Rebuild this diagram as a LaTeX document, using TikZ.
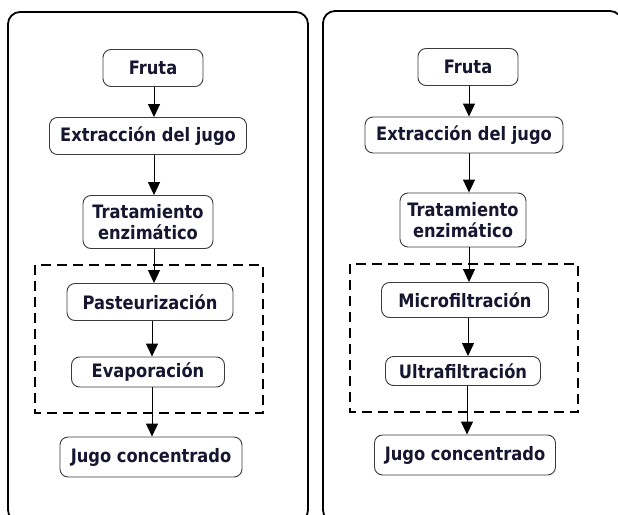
\documentclass[tikz,border=0pt]{standalone}
\usepackage{fontspec}
\newfontfamily\labfont{DejaVu Sans}[FakeStretch=0.88]
\usetikzlibrary{arrows.meta}
\definecolor{txt}{RGB}{22,22,48}
\definecolor{boxline}{RGB}{60,60,60}
\begin{document}
\begin{tikzpicture}[x=1pt,y=-1pt,
  panel/.style={draw=black,line width=1.8pt,rounded corners=12pt},
  group/.style={draw=black,line width=2pt,dash pattern=on 10pt off 6pt},
  stage/.style={draw=boxline,line width=0.9pt,rounded corners=8pt,fill=white,
    inner sep=0pt,align=center,text=txt,
    font=\labfont\bfseries\fontsize{18.5}{21.5}\selectfont},
  arr/.style={draw=black,line width=1pt,-{Triangle[length=13pt,width=12pt]}}]
\useasboundingbox (0,0) rectangle (618,514);
\fill[white] (0,0) rectangle (618,514);
% panels
\draw[panel] (8,12) rectangle (308,522);
\draw[panel] (323,11) rectangle (622,522);
% left flow
\coordinate (la) at (154,0);
\draw[group] (35,265) rectangle (263,413);
\node[stage,minimum width=100pt,minimum height=37pt] (lfruta) at (153,68) {Fruta};
\node[stage,minimum width=197pt,minimum height=37pt] (lextr) at (148,136) {Extracción del jugo};
\node[stage,minimum width=130pt,minimum height=53pt] (ltrat) at (148,222) {Tratamiento\\enzimático};
\node[stage,minimum width=166pt,minimum height=37pt] (lpast) at (150,302) {Pasteurización};
\node[stage,minimum width=153pt,minimum height=30pt] (levap) at (148,372) {Evaporación};
\node[stage,minimum width=182pt,minimum height=40pt] (ljugo) at (151,457) {Jugo concentrado};
\draw[arr] (lfruta.south -| la) -- (lextr.north -| la);
\draw[arr] (lextr.south -| la) -- (ltrat.north -| la);
\draw[arr] (ltrat.south -| la) -- (lpast.north -| la);
\draw[arr] ([xshift=-2pt]lpast.south -| la) -- ([xshift=-2pt]levap.north -| la);
\draw[arr] ([xshift=-2pt]levap.south -| la) -- ([xshift=-2pt]ljugo.north -| la);
% right flow
\coordinate (ra) at (469,0);
\draw[group] (350,264) rectangle (578,412);
\node[stage,minimum width=100pt,minimum height=37pt] (rfruta) at (468,67) {Fruta};
\node[stage,minimum width=198pt,minimum height=36pt] (rextr) at (464,135) {Extracción del jugo};
\node[stage,minimum width=126pt,minimum height=54pt] (rtrat) at (463,220) {Tratamiento\\enzimático};
\node[stage,minimum width=167pt,minimum height=35pt] (rmicro) at (465,300) {Microfiltración};
\node[stage,minimum width=155pt,minimum height=29pt] (rultra) at (463,371) {Ultrafiltración};
\node[stage,minimum width=181pt,minimum height=40pt] (rjugo) at (465,455) {Jugo concentrado};
\draw[arr] (rfruta.south -| ra) -- (rextr.north -| ra);
\draw[arr] (rextr.south -| ra) -- (rtrat.north -| ra);
\draw[arr] (rtrat.south -| ra) -- (rmicro.north -| ra);
\draw[arr] ([xshift=-1pt]rmicro.south -| ra) -- ([xshift=-1pt]rultra.north -| ra);
\draw[arr] ([xshift=-2pt]rultra.south -| ra) -- ([xshift=-2pt]rjugo.north -| ra);
\end{tikzpicture}
\end{document}
